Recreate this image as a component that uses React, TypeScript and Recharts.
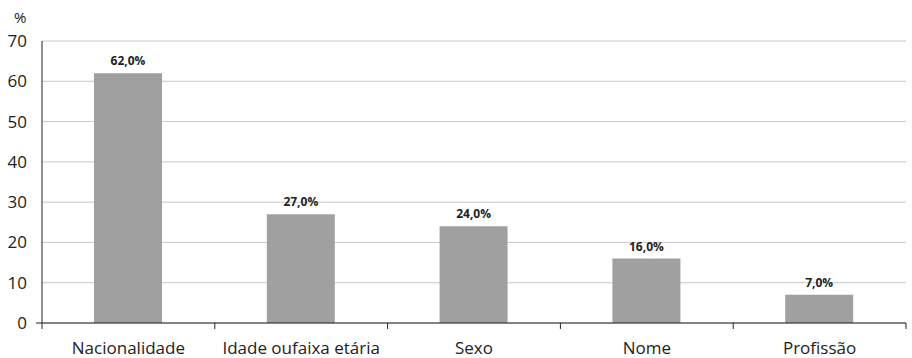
import React from "react";
import { BarChart, Bar, XAxis, YAxis, CartesianGrid, LabelList } from "recharts";

const categories = ["Nacionalidade", "Idade oufaixa etária", "Sexo", "Nome", "Profissão"];
const shares = [62, 27, 24, 16, 7];
const yTicks = [0, 10, 20, 30, 40, 50, 60, 70];

const data = categories.map((name, i) => ({ name, value: shares[i] }));

const FONT = "'Open Sans', Roboto, sans-serif";
const W = 912;
const H = 358;

function fmt(v: number) {
  return v.toFixed(1).replace(".", ",") + "%";
}

function CatTick(props: any) {
  const { x, y, payload, index } = props;
  const half = payload && payload.offset ? payload.offset : 86.4;
  const last = index === categories.length - 1;
  return (
    <g>
      <line x1={x - half} x2={x - half} y1={y} y2={y + 6} stroke="#222" />
      {last && <line x1={x + half} x2={x + half} y1={y} y2={y + 6} stroke="#222" />}
      <text x={x} y={y + 19} dy="0.71em" textAnchor="middle" fontSize={17} fill="#222" fontFamily={FONT}>
        {payload.value}
      </text>
    </g>
  );
}

function ValTick(props: any) {
  const { x, y, payload } = props;
  return (
    <g>
      {payload.value === 0 && <line x1={x + 9} x2={x + 15} y1={y} y2={y} stroke="#222" />}
      <text x={x} y={y} dy="0.355em" textAnchor="end" fontSize={17} fill="#222" fontFamily={FONT}>
        {payload.value}
      </text>
    </g>
  );
}

export default function App() {
  return (
    <div style={{ position: "absolute", left: 0, top: 0, width: W, height: H, background: "#fff", fontFamily: FONT }}>
      <div style={{ position: "absolute", left: 14, top: 7, fontSize: 15, color: "#222" }}>%</div>
      <BarChart width={W} height={H} data={data} margin={{ top: 41, right: 6, left: 0, bottom: 0 }}>
        <CartesianGrid vertical={false} stroke="#c8c8c8" />
        <XAxis
          dataKey="name"
          height={35}
          axisLine={{ stroke: "#222" }}
          tickLine={false}
          tickSize={0}
          tickMargin={0}
          tick={<CatTick />}
          interval={0}
        />
        <YAxis
          width={42}
          domain={[0, 70]}
          ticks={yTicks}
          tickLine={false}
          tickSize={0}
          tickMargin={15}
          axisLine={{ stroke: "#222" }}
          tick={<ValTick />}
        />
        <Bar dataKey="value" fill="#a0a0a0" barSize={68} isAnimationActive={false}>
          <LabelList
            dataKey="value"
            position="top"
            offset={8}
            formatter={(v: any) => fmt(Number(v))}
            style={{ fontSize: 12, fontWeight: 700, fill: "#222", fontFamily: FONT }}
          />
        </Bar>
      </BarChart>
    </div>
  );
}
